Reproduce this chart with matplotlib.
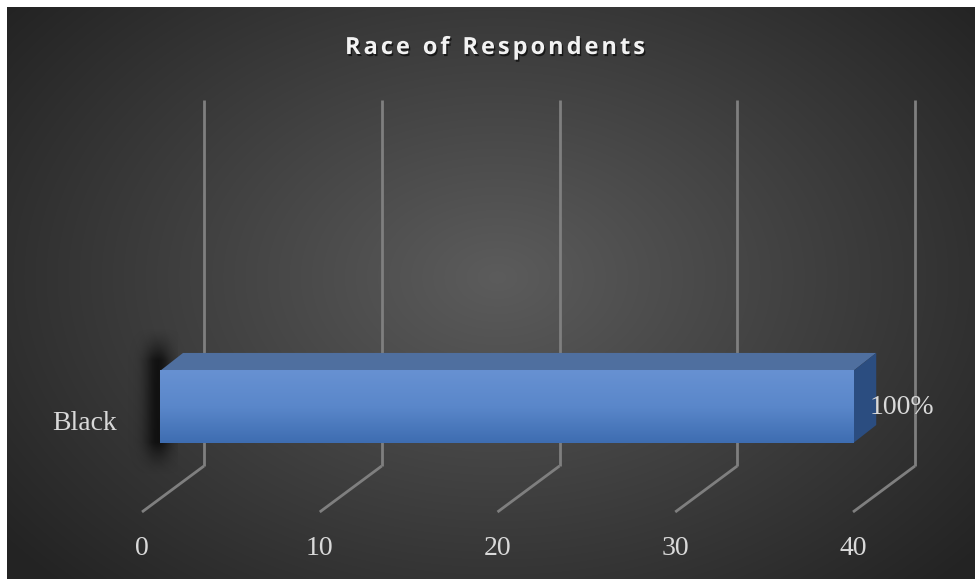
import numpy as np
import matplotlib
matplotlib.use("Agg")
import matplotlib.pyplot as plt
import matplotlib.patheffects as pe
from matplotlib.patches import Polygon
from matplotlib.colors import LinearSegmentedColormap

# data
categories = ["Black"]
values = [39]
value_labels = ["100%"]
ticks = [0, 10, 20, 30, 40]
title = "Race of Respondents"

W, H = 975, 579
fig = plt.figure(figsize=(W / 100, H / 100), dpi=100, facecolor="white")

# background with radial gradient (white strip at top/left like the source)
bg = fig.add_axes([7 / W, 0, (W - 7) / W, (H - 7) / H])
bg.axis("off")
yy, xx = np.mgrid[0:H - 7, 0:W - 7]
r = np.sqrt(((xx - 490) / 620.0) ** 2 + ((yy - 270) / 430.0) ** 2)
shade = np.clip(0.36 - 0.22 * r, 0.14, 0.36)
bg.imshow(np.dstack([shade] * 3), aspect="auto", interpolation="bilinear")

# plot axes = front plane of the 3D floor
left_px, right_px, bot_px, top_px = 142, 853, 512, 146
ax = fig.add_axes([left_px / W, (H - bot_px) / H,
                   (right_px - left_px) / W, (bot_px - top_px) / H])
ax.set_facecolor("none")
y0, y1 = -0.25, 0.75
ax.set_xlim(ticks[0], ticks[-1])
ax.set_ylim(y0, y1)
for s in ax.spines.values():
    s.set_visible(False)

ux = (ticks[-1] - ticks[0]) / (right_px - left_px)   # data per px (x)
uy = (y1 - y0) / (bot_px - top_px)                  # data per px (y)
Dx, Dy = 62 * ux, 46 * uy          # full depth of the box
f_dx, f_dy = 18 * ux, 13.5 * uy    # bar front depth
b_dx, b_dy = 41 * ux, 31.5 * uy    # bar back depth

grid_kw = dict(color="#7f7f7f", lw=2, clip_on=False, zorder=1,
               solid_capstyle="butt")
for t in ticks:
    ax.plot([t, t + Dx], [y0, y0 + Dy], **grid_kw)
    ax.plot([t + Dx, t + Dx], [y0 + Dy, y1 + Dy], **grid_kw)

bar_h = 0.197
for i, (cat, v, lab) in enumerate(zip(categories, values, value_labels)):
    yb = i - bar_h / 2 + f_dy
    yt = i + bar_h / 2 + f_dy

    # soft shadow on the left end
    sx0, sx1 = -2.0, f_dx + 1.0
    sy0, sy1 = yb - 0.09, yt + (b_dy - f_dy) + 0.07
    gy, gx = np.mgrid[0:100, 0:80]
    px = sx0 + (sx1 - sx0) * gx / 79
    py = sy0 + (sy1 - sy0) * (1 - gy / 99)
    ax_a = np.exp(-((px - (f_dx - 0.1)) / 0.75) ** 2)
    ay = np.clip(np.minimum(py - sy0, sy1 - py) / 0.09, 0, 1) ** 1.5
    sh = np.zeros((100, 80, 4))
    sh[..., 3] = 0.7 * ax_a * ay
    ax.imshow(sh, extent=[sx0, sx1, sy0, sy1], aspect="auto",
              interpolation="bilinear", zorder=2, clip_on=False)

    # top face
    top = Polygon([(f_dx, yt), (v + f_dx, yt), (v + b_dx, yt + b_dy - f_dy),
                   (b_dx, yt + b_dy - f_dy)], closed=True,
                  facecolor="#4f6f9f", edgecolor="none", zorder=3, clip_on=False)
    ax.add_patch(top)
    # right face
    side = Polygon([(v + f_dx, yb), (v + f_dx, yt), (v + b_dx, yt + b_dy - f_dy),
                    (v + b_dx, yb + b_dy - f_dy)], closed=True,
                   facecolor="#2b4d80", edgecolor="none", zorder=3, clip_on=False)
    ax.add_patch(side)
    # front face with vertical gradient
    bars = ax.barh([i + f_dy], [v], left=f_dx, height=bar_h, color="#5585c8",
                   zorder=4, clip_on=False)
    rect = bars[0]
    cmap = LinearSegmentedColormap.from_list("front", ["#3e6db1", "#5a87ca", "#6791d2"])
    grad = np.linspace(0, 1, 100).reshape(-1, 1)
    im = ax.imshow(grad, cmap=cmap, extent=[f_dx, v + f_dx, yb, yt], origin="lower",
                   aspect="auto", zorder=5, clip_on=False)
    im.set_clip_path(rect)

    ax.annotate(lab, xy=(v + f_dx, i + f_dy), xytext=(16, 0),
                textcoords="offset pixels", va="center", ha="left",
                fontsize=20, family="Liberation Serif", color="#d9d9d9", zorder=6)

ax.set_xticks(ticks)
ax.set_xticklabels([str(t) for t in ticks], family="Liberation Serif",
                   fontsize=20, color="#d9d9d9")
ax.set_yticks(range(len(categories)))
ax.set_yticklabels(categories, family="Liberation Serif", fontsize=20, color="#d9d9d9")
ax.tick_params(axis="x", length=0, pad=17)
ax.tick_params(axis="y", length=0, pad=18)

# letter-spaced title, spread over ~300 px like the source
renderer = fig.canvas.get_renderer()
tkw = dict(fontsize=17, fontweight="bold", family="Open Sans", color="#f2f2f2",
           va="center", ha="left")
widths = []
for ch in title:
    t = fig.text(0, 0, ch if ch != " " else "n", **tkw)
    wpx = t.get_window_extent(renderer).width
    if ch == " ":
        wpx *= 0.45
    widths.append(wpx)
    t.remove()
target = 300
spacing = max(0.0, (target - sum(widths)) / (len(title) - 1))
total = sum(widths) + spacing * (len(title) - 1)
x = 495 - total / 2
for ch, wpx in zip(title, widths):
    if ch != " ":
        fig.text(x / W, 1 - 48 / H, ch,
                 path_effects=[pe.withSimplePatchShadow(offset=(1, -1.5), alpha=0.6,
                                                        shadow_rgbFace="black")],
                 **tkw)
    x += wpx + spacing

fig.savefig("out.png", dpi=100, facecolor=fig.get_facecolor())
